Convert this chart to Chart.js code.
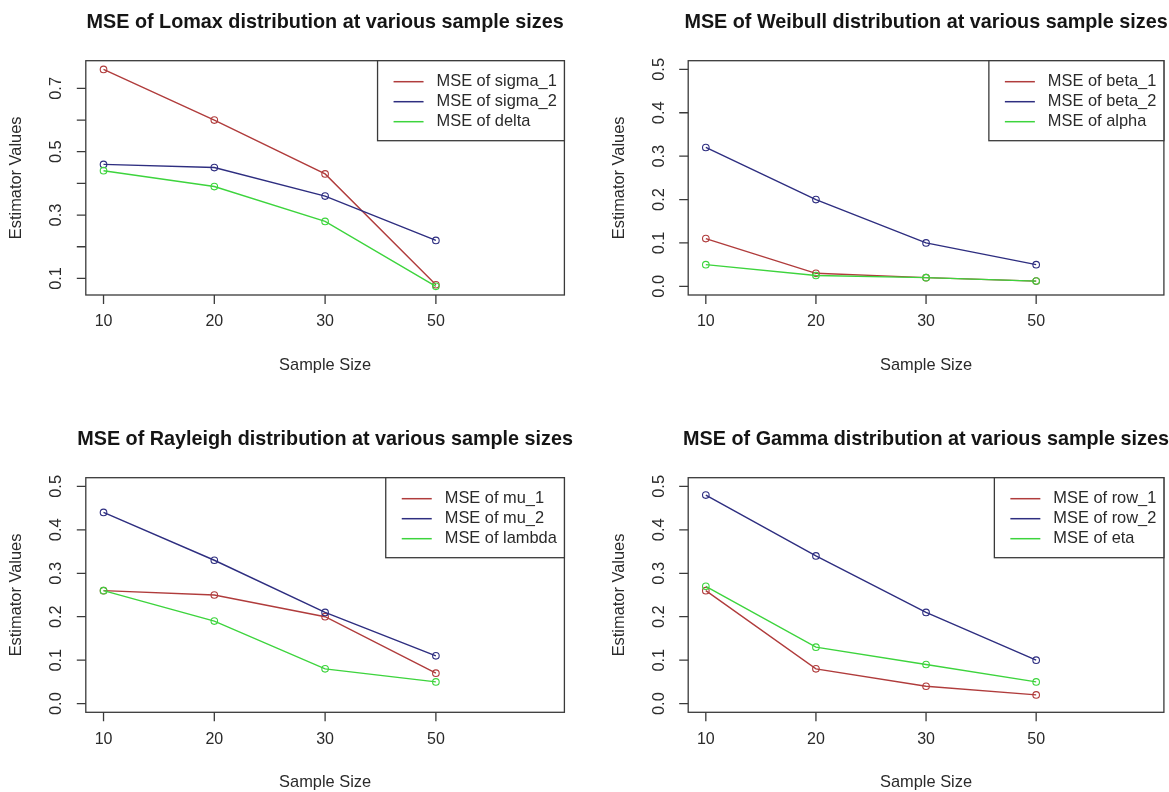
<!DOCTYPE html>
<html>
<head>
<meta charset="utf-8">
<title>MSE at various sample sizes</title>
<script src="https://cdn.jsdelivr.net/npm/chart.js@4.4.1/dist/chart.umd.min.js"></script>
<style>
  html, body { margin: 0; padding: 0; background: #fff; }
  body { width: 1169px; height: 792px; position: relative; overflow: hidden; }
  canvas { position: absolute; }
</style>
</head>
<body>
<canvas id="lomaxChart" width="590" height="417" style="left:0px;top:0px"></canvas>
<canvas id="weibullChart" width="579" height="417" style="left:590px;top:0px"></canvas>
<canvas id="rayleighChart" width="590" height="375" style="left:0px;top:417px"></canvas>
<canvas id="gammaChart" width="579" height="375" style="left:590px;top:417px"></canvas>
<script>
// Sample sizes (plotted at positions 1..4 like R's plot of an index)
const sampleSizes = ['10', '20', '30', '50'];

// Lomax
const lomaxSigma1 = [0.76, 0.60, 0.43, 0.08];
const lomaxSigma2 = [0.46, 0.45, 0.36, 0.22];
const lomaxDelta  = [0.44, 0.39, 0.28, 0.075];

// Weibull
const weibullBeta1 = [0.11, 0.03, 0.02, 0.012];
const weibullBeta2 = [0.32, 0.20, 0.10, 0.05];
const weibullAlpha = [0.05, 0.025, 0.02, 0.012];

// Rayleigh
const rayleighMu1    = [0.26, 0.25, 0.20, 0.07];
const rayleighMu2    = [0.44, 0.33, 0.21, 0.11];
const rayleighLambda = [0.26, 0.19, 0.08, 0.05];

// Gamma
const gammaRow1 = [0.26, 0.08, 0.04, 0.02];
const gammaRow2 = [0.48, 0.34, 0.21, 0.10];
const gammaEta  = [0.27, 0.13, 0.09, 0.05];

// Y axis ticks
const lomaxTicks = [0.1, 0.2, 0.3, 0.4, 0.5, 0.6, 0.7];
const lomaxTickLabels = ['0.1', '', '0.3', '', '0.5', '', '0.7'];
const mseTicks = [0.0, 0.1, 0.2, 0.3, 0.4, 0.5];
const mseTickLabels = ['0.0', '0.1', '0.2', '0.3', '0.4', '0.5'];
const mseLimits = [0, 0.5];
const xLimits = [1, 5];

// Series colours (red, blue, green)
const seriesColors = ['#b03c3c', '#2e2e80', '#3dd43d'];

const FONT = '"Liberation Sans", Arial, sans-serif';

// R style extends each axis range by 4%
function extendRange(lo, hi) {
    const d = (hi - lo) * 0.04;
    return [lo - d, hi + d];
}

function drawText(ctx, text, x, y, font, align, rotated) {
    ctx.save();
    ctx.translate(x, y);
    if (rotated) ctx.rotate(-Math.PI / 2);
    ctx.font = font;
    ctx.textAlign = align || 'center';
    ctx.textBaseline = 'middle';
    ctx.fillText(text, 0, 0);
    ctx.restore();
}

// Draws box, axes, titles and legend the way base R graphics does
const rBasePlugin = {
    id: 'rBase',
    afterDraw(chart, args, opts) {
        const ctx = chart.ctx;
        const area = chart.chartArea;
        const xs = chart.scales.x;
        const ys = chart.scales.y;

        ctx.save();
        ctx.strokeStyle = '#3a3a3a';
        ctx.lineWidth = 1.3;

        // plot box
        ctx.strokeRect(area.left, area.top, area.right - area.left, area.bottom - area.top);

        // tick marks
        ctx.beginPath();
        opts.xLabels.forEach((lab, i) => {
            const px = xs.getPixelForValue(i + 1);
            ctx.moveTo(px, area.bottom);
            ctx.lineTo(px, area.bottom + 9);
        });
        opts.yTicks.forEach(v => {
            const py = ys.getPixelForValue(v);
            ctx.moveTo(area.left, py);
            ctx.lineTo(area.left - 9, py);
        });
        ctx.stroke();

        // tick labels
        ctx.fillStyle = '#2a2a2a';
        opts.xLabels.forEach((lab, i) => {
            drawText(ctx, lab, xs.getPixelForValue(i + 1), area.bottom + 27, '16px ' + FONT);
        });
        opts.yTicks.forEach((v, i) => {
            if (opts.yTickLabels[i]) {
                drawText(ctx, opts.yTickLabels[i], area.left - 29, ys.getPixelForValue(v), '16.4px ' + FONT, 'center', true);
            }
        });

        // axis titles
        const midX = (area.left + area.right) / 2;
        const midY = (area.top + area.bottom) / 2;
        drawText(ctx, 'Sample Size', midX, area.bottom + 70, '16.4px ' + FONT);
        drawText(ctx, 'Estimator Values', area.left - 69, midY, '16.4px ' + FONT, 'center', true);

        // main title
        ctx.fillStyle = '#151515';
        drawText(ctx, opts.title, midX, area.top - 38, 'bold 19.8px ' + FONT);

        // legend (top right, inside the box)
        ctx.font = '16.4px ' + FONT;
        const maxW = Math.max(...opts.names.map(n => ctx.measureText(n).width));
        const w = 59 + maxW + 7.6;
        const h = 80;
        const lx = area.right - w;
        const ly = area.top;
        ctx.fillStyle = '#fff';
        ctx.fillRect(lx, ly, w, h);
        ctx.strokeRect(lx, ly, w, h);
        opts.names.forEach((name, i) => {
            const ry = ly + 21 + i * 20;
            ctx.strokeStyle = seriesColors[i];
            ctx.lineWidth = 1.5;
            ctx.beginPath();
            ctx.moveTo(lx + 16, ry);
            ctx.lineTo(lx + 46, ry);
            ctx.stroke();
            ctx.fillStyle = '#2a2a2a';
            drawText(ctx, name, lx + 59, ry, '16.4px ' + FONT, 'left');
        });
        ctx.restore();
    }
};

// Build one panel
function makeChart(id, title, names, series, yLimits, yTicks, yTickLabels, padding) {
    const yRange = extendRange(yLimits[0], yLimits[1]);
    const xRange = extendRange(xLimits[0], xLimits[1]);

    const datasets = series.map((values, i) => ({
        label: names[i],
        data: values.map((v, j) => ({ x: j + 1, y: v })),
        borderColor: seriesColors[i],
        borderWidth: 1.4,
        pointStyle: 'circle',
        pointRadius: 3.3,
        pointBorderWidth: 1.1,
        pointBorderColor: seriesColors[i],
        pointBackgroundColor: 'rgba(0,0,0,0)',
        tension: 0,
        fill: false,
        order: series.length - i   // later series drawn on top, as in R
    }));

    return new Chart(document.getElementById(id), {
        type: 'line',
        data: { datasets: datasets },
        options: {
            responsive: false,
            animation: false,
            devicePixelRatio: 1,
            layout: { padding: padding },
            scales: {
                x: { type: 'linear', min: xRange[0], max: xRange[1], display: false },
                y: { type: 'linear', min: yRange[0], max: yRange[1], display: false }
            },
            plugins: {
                legend: { display: false },
                tooltip: { enabled: false },
                rBase: {
                    title: title,
                    names: names,
                    xLabels: sampleSizes,
                    yTicks: yTicks,
                    yTickLabels: yTickLabels
                }
            }
        },
        plugins: [rBasePlugin]
    });
}

document.addEventListener('DOMContentLoaded', () => {
    const leftPad = { left: 85.8, top: 60.7, right: 25.6, bottom: 122 };
    const rightPad = { left: 98.2, top: 60.7, right: 2.2, bottom: 122 };
    const leftPadLow = { left: 85.8, top: 60.7, right: 25.6, bottom: 79.7 };
    const rightPadLow = { left: 98.2, top: 60.7, right: 2.2, bottom: 79.7 };

    // Lomax: y limits come from the data range
    const lomaxAll = lomaxSigma1.concat(lomaxSigma2, lomaxDelta);
    const lomaxLimits = [Math.min(...lomaxAll), Math.max(...lomaxAll)];

    makeChart('lomaxChart', 'MSE of Lomax distribution at various sample sizes',
        ['MSE of sigma_1', 'MSE of sigma_2', 'MSE of delta'],
        [lomaxSigma1, lomaxSigma2, lomaxDelta],
        lomaxLimits, lomaxTicks, lomaxTickLabels, leftPad);

    makeChart('weibullChart', 'MSE of Weibull distribution at various sample sizes',
        ['MSE of beta_1', 'MSE of beta_2', 'MSE of alpha'],
        [weibullBeta1, weibullBeta2, weibullAlpha],
        mseLimits, mseTicks, mseTickLabels, rightPad);

    makeChart('rayleighChart', 'MSE of Rayleigh distribution at various sample sizes',
        ['MSE of mu_1', 'MSE of mu_2', 'MSE of lambda'],
        [rayleighMu1, rayleighMu2, rayleighLambda],
        mseLimits, mseTicks, mseTickLabels, leftPadLow);

    makeChart('gammaChart', 'MSE of Gamma distribution at various sample sizes',
        ['MSE of row_1', 'MSE of row_2', 'MSE of eta'],
        [gammaRow1, gammaRow2, gammaEta],
        mseLimits, mseTicks, mseTickLabels, rightPadLow);
});
</script>
</body>
</html>
